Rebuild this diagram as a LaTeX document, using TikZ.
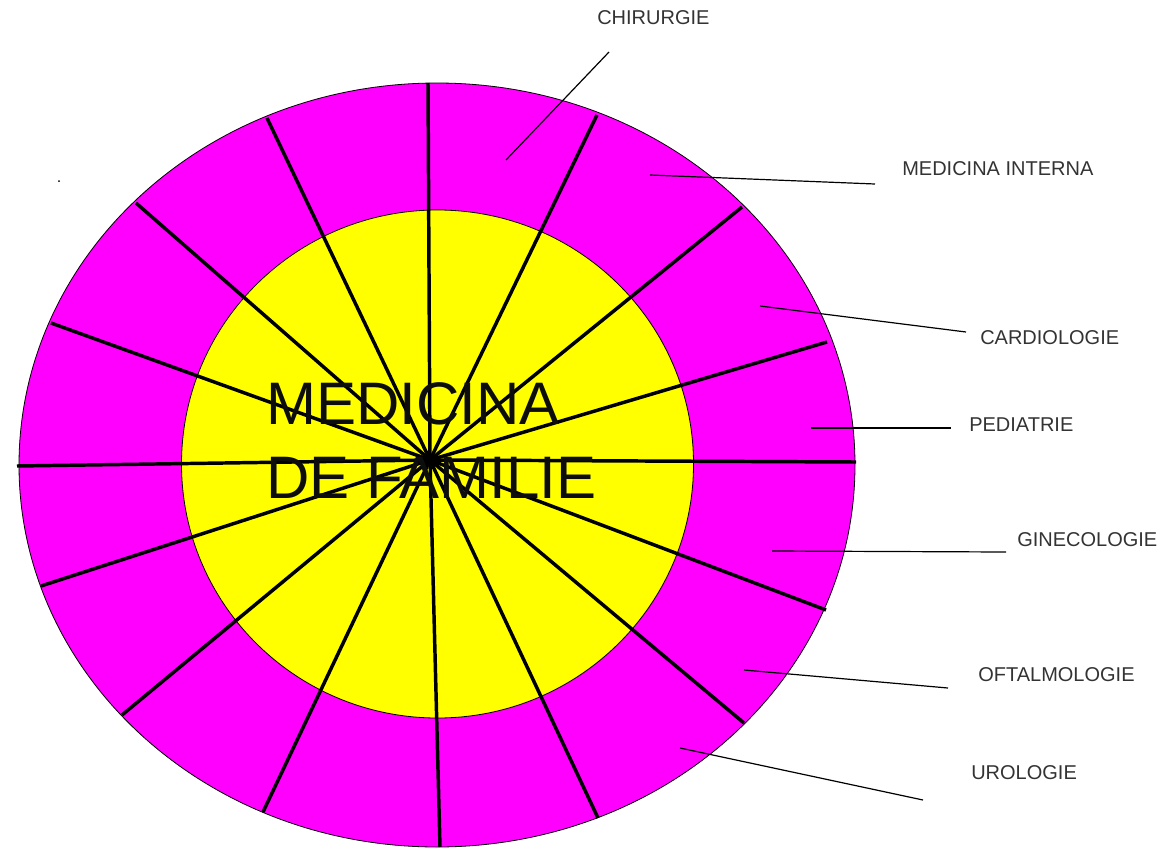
\documentclass[tikz,border=0pt]{standalone}
\usepackage{fontspec}
\setmainfont{Liberation Sans}
\definecolor{ringmag}{RGB}{255,0,255}
\definecolor{ringyel}{RGB}{255,255,0}

\begin{document}
\begin{tikzpicture}[x=0.75pt,y=-0.75pt,
    spoke/.style={line width=2.6pt},
    leader/.style={line width=0.9pt},
    lbl/.style={anchor=west,inner sep=0pt,text=black!80,font=\fontsize{15}{18}\selectfont}]
  \useasboundingbox (0,0) rectangle (1161,850);
  % rings
  \filldraw[fill=ringmag,line width=0.6pt] (437,465) ellipse [x radius=418,y radius=382];
  \filldraw[fill=ringyel,line width=0.6pt] (437.5,464) ellipse [x radius=256,y radius=254];
  % spokes
  \coordinate (hub) at (430,460);
  \foreach \name/\px/\py in
{s1/428/83,s2/597/115,s3/742/207,s4/827/342,s5/856/462,s6/826/610,s7/744/723,s8/598/818,s9/440/847,s10/263/812,s11/122/715,s12/41/586,s13/17/466,s14/51/323,s15/136/203,s16/267/118}
    {\coordinate (\name) at (\px,\py);
     \draw[spoke] (hub) -- (\name);}
  \node[anchor=base west,align=left,inner sep=0pt,text=black!95,
    font=\fontsize{45}{55}\selectfont] (title) at (266,498) {MEDICINA\\DE FAMILIE};
  % labels
  \foreach \name/\px/\py/\txt in
{ch/597/18/CHIRURGIE,mi/902/169/MEDICINA INTERNA,ca/980/338/CARDIOLOGIE,pe/969/425/PEDIATRIE,gi/1017/540/GINECOLOGIE,of/978/675/OFTALMOLOGIE,ur/971/773/UROLOGIE}
    \node[lbl] (\name) at (\px,\py) {\txt};
  % leader lines
  \foreach \name/\ox/\oy/\ix/\iy in
{ch/609/52/506/160,mi/875/184/650/175,ca/966/332/760/306,pe/951/428/811/428,gi/1006/552/772/551,of/948/688/744/670,ur/923/800/680/748}
    {\coordinate (\name-out) at (\ox,\oy);
     \coordinate (\name-in) at (\ix,\iy);
     \draw[leader] (\name-in) -- (\name-out);}
  \fill (59,181) circle (1);
\end{tikzpicture}
\end{document}
